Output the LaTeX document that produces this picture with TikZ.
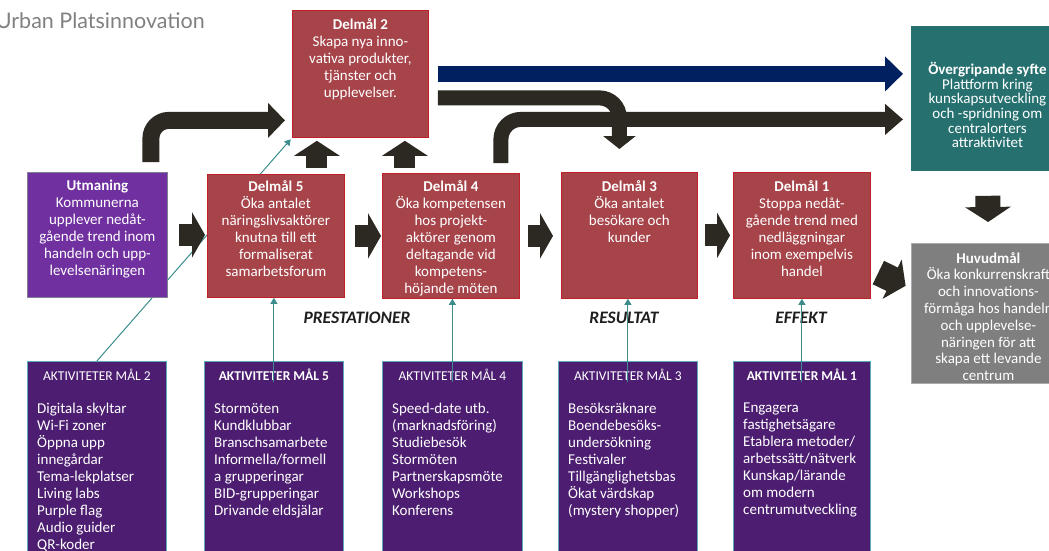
\documentclass[tikz,border=0pt]{standalone}
\usepackage{fontspec}
\setmainfont{Carlito}
\newfontfamily\titlefont{Lato}
\usetikzlibrary{arrows.meta,calc}
\pgfdeclarelayer{back}
\pgfsetlayers{back,main}

\definecolor{goalred}{RGB}{166,68,74}
\definecolor{goalline}{RGB}{192,32,40}
\definecolor{utpurple}{RGB}{112,48,160}
\definecolor{utline}{RGB}{127,127,150}
\definecolor{syfteteal}{RGB}{38,112,112}
\definecolor{huvudgrey}{RGB}{127,127,127}
\definecolor{huvudline}{RGB}{170,170,170}
\definecolor{actpurple}{RGB}{76,29,112}
\definecolor{actline}{RGB}{90,170,190}
\definecolor{linkteal}{RGB}{60,140,140}
\definecolor{arrowdark}{RGB}{44,40,34}
\definecolor{navyarrow}{RGB}{0,32,96}
\definecolor{phasedark}{RGB}{30,30,30}
\definecolor{titlegrey}{RGB}{128,128,128}

\tikzset{
  goal/.style={draw=goalline, fill=goalred, line width=0.8pt, anchor=north west, inner sep=0pt, minimum width=137, minimum height=125},
  boxtxt/.style={anchor=north, inner sep=0pt, align=center, text=white, font=\fontsize{15}{17}\selectfont},
  act/.style={draw=actline, fill=actpurple, line width=0.8pt, anchor=north west, inner sep=0pt, minimum width=139, minimum height=200},
  acthead/.style={anchor=north, inner sep=0pt, text=white, font=\fontsize{13.5}{16}\selectfont},
  actlist/.style={anchor=north west, inner sep=0pt, align=left, text=white, font=\fontsize{15}{17}\selectfont},
  fat/.style={draw=arrowdark, line width=#1},
  feed/.style={draw=linkteal, line width=1pt, -{Triangle[width=7pt,length=6pt]}},
  phase/.style={inner sep=0pt, text=phasedark, font=\fontsize{17.5}{20}\selectfont\bfseries\itshape}
}

\begin{document}
\begin{tikzpicture}[x=1pt,y=1pt,yscale=-1,xscale=1]
\useasboundingbox (0,0) rectangle (1049,551);

\node[anchor=base east, inner sep=0pt, text=titlegrey, font=\titlefont\fontsize{21.5}{25}\selectfont] (title) at (205,29) {Urban Platsinnovation};

% boxes
\node[goal, minimum width=136, minimum height=127] (d2) at (292,10) {};
\node[goal, fill=utpurple, draw=utline, minimum width=140] (ut) at (27,172) {};
\node[goal, minimum height=123] (d5) at (207,174) {};
\node[goal] (d4) at (382,173) {};
\node[goal, minimum width=136, minimum height=126] (d3) at (561,172) {};
\node[goal, minimum height=126] (d1) at (733,172) {};
\node[goal, fill=syfteteal, draw=syfteteal, minimum width=152, minimum height=144] (ov) at (911,26) {};
\node[goal, fill=huvudgrey, draw=huvudline, minimum width=154, minimum height=140] (hv) at (911,243) {};

\node[boxtxt] (d2t) at ($(d2.north)+(0,8)$) {\textbf{Delmål 2}\\Skapa nya inno-\\vativa produkter,\\tjänster och\\upplevelser.};
\node[boxtxt] (utt) at ($(ut.north)+(0,8)$) {\textbf{Utmaning}\\Kommunerna\\upplever nedåt-\\gående trend inom\\handeln och upp-\\levelsenäringen};
\node[boxtxt] (d5t) at ($(d5.north)+(0,6)$) {\textbf{Delmål 5}\\Öka antalet\\näringslivsaktörer\\knutna till ett\\formaliserat\\samarbetsforum};
\node[boxtxt] (d4t) at ($(d4.north)+(0,7)$) {\textbf{Delmål 4}\\Öka kompetensen\\hos projekt-\\aktörer genom\\deltagande vid\\kompetens-\\höjande möten};
\node[boxtxt] (d3t) at ($(d3.north)+(0,8)$) {\textbf{Delmål 3}\\Öka antalet\\besökare och\\kunder};
\node[boxtxt] (d1t) at ($(d1.north)+(0,8)$) {\textbf{Delmål 1}\\Stoppa nedåt-\\gående trend med\\nedläggningar\\inom exempelvis\\handel};
\node[boxtxt, font=\fontsize{15}{14.7}\selectfont] (ovt) at ($(ov.north)+(0,36)$) {\textbf{Övergripande syfte}\\Plattform kring\\kunskapsutveckling\\och -spridning om\\centralorters\\attraktivitet};
\node[boxtxt, font=\fontsize{15}{16.8}\selectfont] (hvt) at ($(hv.north)+(0,9)$) {\textbf{Huvudmål}\\Öka konkurrenskraft\\och innovations-\\förmåga hos handeln\\och upplevelse-\\näringen för att\\skapa ett levande\\centrum};

% activities
\node[act] (a2) at (27,361) {};
\node[act] (a5) at (204,361) {};
\node[act, minimum width=140] (a4) at (382,361) {};
\node[act] (a3) at (558,361) {};
\node[act, minimum width=137] (a1) at (733,361) {};

\node[acthead] (a2h) at ($(a2.north)+(0,8)$) {AKTIVITETER MÅL 2};
\node[acthead, font=\fontsize{13.5}{16}\selectfont\bfseries] (a5h) at ($(a5.north)+(0,8)$) {AKTIVITETER MÅL 5};
\node[acthead] (a4h) at ($(a4.north)+(0,8)$) {AKTIVITETER MÅL 4};
\node[acthead] (a3h) at ($(a3.north)+(0,8)$) {AKTIVITETER MÅL 3};
\node[acthead, font=\fontsize{13.5}{16}\selectfont\bfseries] (a1h) at ($(a1.north)+(0,8)$) {AKTIVITETER MÅL 1};

\node[actlist] (a2l) at ($(a2.north west)+(10,42)$) {Digitala skyltar\\Wi-Fi zoner\\Öppna upp\\innegårdar\\Tema-lekplatser\\Living labs\\Purple flag\\Audio guider\\QR-koder};
\node[actlist] (a5l) at ($(a5.north west)+(10,42)$) {Stormöten\\Kundklubbar\\Branschsamarbete\\Informella/formell\\a grupperingar\\BID-grupperingar\\Drivande eldsjälar};
\node[actlist] (a4l) at ($(a4.north west)+(10,42)$) {Speed-date utb.\\(marknadsföring)\\Studiebesök\\Stormöten\\Partnerskapsmöte\\Workshops\\Konferens};
\node[actlist] (a3l) at ($(a3.north west)+(10,42)$) {Besöksräknare\\Boendebesöks-\\undersökning\\Festivaler\\Tillgänglighetsbas\\Ökat värdskap\\(mystery shopper)};
\node[actlist] (a1l) at ($(a1.north west)+(10,42)$) {Engagera\\fastighetsägare\\Etablera metoder/\\arbetssätt/nätverk\\Kunskap/lärande\\om modern\\centrumutveckling};

\node[phase] (pres) at (357,318) {PRESTATIONER};
\node[phase] (res) at (624,318) {RESULTAT};
\node[phase] (eff) at (801,318) {EFFEKT};

% links
\begin{pgfonlayer}{back}
\draw[feed, shorten >=2pt] (a2.north) -- (d2.south west);
\end{pgfonlayer}
\draw[feed] ($(a5.north)+(0,21)$) -- (a5.north |- d5.south);
\draw[feed] ($(a4.north)+(0,21)$) -- (a4.north |- d4.south);
\draw[feed] ($(a3.north)+(0,21)$) -- (a3.north |- d3.south);
\draw[feed] ($(a1.north)+(0,21)$) -- (a1.north |- d1.south);

% fat arrows
\draw[fat=22, -{Triangle[width=45pt,length=13pt]}, shorten <=11pt, shorten >=2pt] (ut.east) -- (ut.east -| d5.west);
\draw[fat=22, -{Triangle[width=45pt,length=13pt]}, shorten <=10pt, shorten >=1pt] (d5.east) -- (d5.east -| d4.west);
\draw[fat=22, -{Triangle[width=45pt,length=13pt]}, shorten <=8pt, shorten >=8pt] (d4.east) -- (d4.east -| d3.west);
\draw[fat=22, -{Triangle[width=45pt,length=13pt]}, shorten <=7pt, shorten >=3pt] (d3.east) -- (d3.east -| d1.west);

\coordinate (u1) at ($(d5.north)+(41,0)$);
\coordinate (u2) at ($(d4.north)+(-46,0)$);
\draw[fat=21, -{Triangle[width=45pt,length=15pt]}, shorten <=6pt, shorten >=3pt] (u1) -- (u1 |- d2.south);
\draw[fat=21, -{Triangle[width=45pt,length=15pt]}, shorten <=5pt, shorten >=3pt] (u2) -- (u2 |- d2.south);

\draw[fat=17, rounded corners=18, -{Triangle[width=34pt,length=17pt]}, shorten <=10pt, shorten >=7pt] ($(ut.north)+(53.5,0)$) |- ($(d2.west)+(0,46.5)$);
\draw[fat=16, draw=navyarrow, -{Triangle[width=34pt,length=18pt]}, shorten <=9pt, shorten >=8pt] (d2.east) -- (d2.east -| ov.west);
\draw[fat=15, rounded corners=20, -{Triangle[width=32pt,length=13pt]}, shorten <=9pt, shorten >=23pt] ($(d2.east)+(0,24)$) -| ($(d3.north)+(-10,0)$);
\draw[fat=15, rounded corners=20, -{Triangle[width=30pt,length=18pt]}, shorten <=10pt, shorten >=8pt] ($(d4.north)+(50,0)$) |- ($(ov.west)+(0,21)$);

\draw[fat=25, -{Triangle[width=45pt,length=15pt]}, shorten <=25pt, shorten >=21pt] (ov.south) -- (hv.north);
\draw[fat=26, -{Triangle[width=43pt,length=15pt]}, shorten <=85pt, shorten >=6pt] (d1.center) -- ($(hv.west)+(0,-25)$);
\end{tikzpicture}
\end{document}
